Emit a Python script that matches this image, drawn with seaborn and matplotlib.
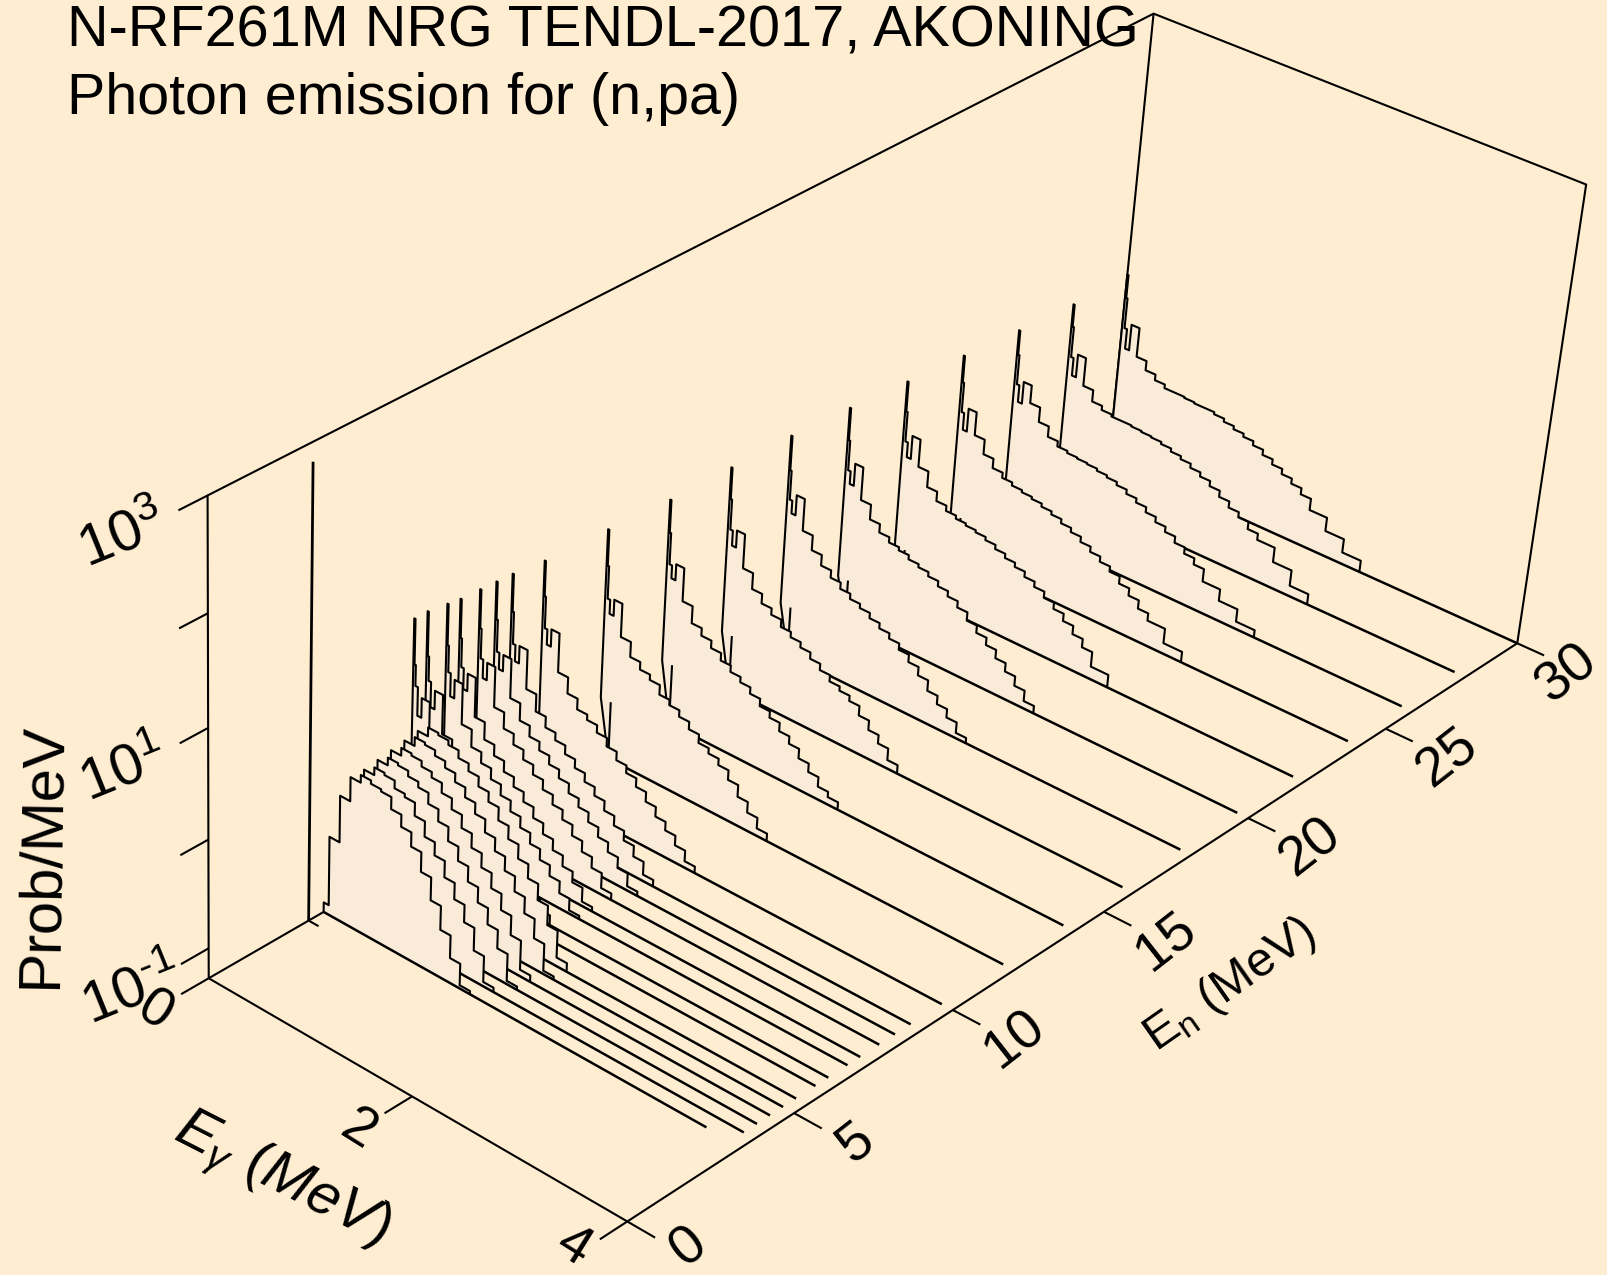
import numpy as np
import matplotlib
matplotlib.use("Agg")
import matplotlib.pyplot as plt
import seaborn as sns

# values, z is log10(Prob/MeV)
z_floor = -1.28
z_top = 3.0
eg_max = 4.0
en_max = 30.0

# low energy spectra, no spike at the start
en_dome = [3.4, 3.8, 4.2, 4.6, 5.0, 5.4]
dome_edges = [0, .05, .15, .25, .35, .45, .55, .65, .75, .85, .95, 1.05, 1.15, 1.25, 1.35, 1.45, 1.55, 1.65, 1.75]
d34 = [-1.19, -.55, -.12, .10, .17, .14, .12, .01, -.10, -.23, -.41, -.62, -.84, -1.05, -1.25]
d38 = [-1.18, -.55, -.12, .10, .17, .15, .08, .05, -.07, -.21, -.33, -.48, -.63, -.79, -1.0, -1.24]
d42 = [-1.15, -.5, -.1, .12, .19, .17, .12, .07, -.03, -.14, -.27, -.40, -.54, -.68, -.83, -1.0, -1.25]
d46 = [-1.15, -.5, -.08, .14, .21, .19, .14, .09, 0, -.10, -.22, -.35, -.48, -.62, -.77, -.95, -1.22]
d50 = [-1.1, -.45, -.05, .16, .24, .22, .17, .11, .03, -.06, -.16, -.28, -.40, -.53, -.67, -.82, -1.0, -1.25]
d54 = [-1.1, -.45, -.03, .18, .26, .24, .2, .13, .06, -.03, -.12, -.24, -.36, -.49, -.62, -.77, -.95, -1.2]
dome_z = [d34, d38, d42, d46, d50, d54]

# higher spectra, spike then falling steps
en_spike = [6, 6.4, 7, 7.4, 8, 8.5, 9, 10, 12, 14, 16, 18, 20, 22, 24, 26, 28, 30]
spike_edges = [0, .012, .025, .05, .09, .17, .27, .37, .47, .57, .67, .77, .87, .97, 1.07, 1.17, 1.27, 1.37,
               1.47, 1.57, 1.67, 1.77, 1.87, 1.97, 2.14, 2.32, 2.5]
s06 = [.98, .57, .38, .12, .30, -.06, -.23, -.34, -.45, -.57, -.68, -.80, -.91, -1.02, -1.12, -1.22]
s064 = [.98, .58, .36, .13, .30, -.06, -.22, -.33, -.44, -.55, -.66, -.77, -.88, -.99, -1.09, -1.19]
s07 = [.95, .58, .34, .13, .30, -.07, -.23, -.33, -.43, -.53, -.63, -.73, -.83, -.93, -1.03, -1.14, -1.25]
s074 = [.93, .58, .32, .13, .29, -.07, -.23, -.33, -.43, -.52, -.61, -.71, -.81, -.91, -1.01, -1.11, -1.24]
s08 = [.92, .57, .30, .13, .29, -.08, -.23, -.33, -.42, -.51, -.60, -.69, -.78, -.88, -.98, -1.08, -1.22]
s085 = [.91, .57, .28, .13, .28, -.08, -.24, -.34, -.42, -.50, -.58, -.67, -.75, -.84, -.93, -1.02, -1.12, -1.24]
s09 = [.90, .56, .27, .12, .28, -.08, -.24, -.34, -.41, -.49, -.57, -.65, -.73, -.82, -.91, -1.00, -1.10, -1.22]
s10 = [.86, .54, .25, .11, .27, -.09, -.24, -.34, -.39, -.46, -.54, -.62, -.69, -.77, -.86, -.95, -1.03, -1.12, -1.22]
s12 = [.83, .50, .20, .07, .22, -.09, -.23, -.30, -.35, -.44, -.49, -.55, -.62, -.70, -.75, -.81, -.90, -1.01, -1.11, -1.21]
s14 = [.79, .49, .20, .08, .23, -.08, -.24, -.31, -.38, -.45, -.51, -.56, -.62, -.69, -.75, -.83, -.90, -.99, -1.07, -1.16, -1.21]
s16 = [.78, .49, .21, .07, .23, -.09, -.24, -.33, -.39, -.46, -.51, -.56, -.62, -.68, -.74, -.78, -.83, -.92, -1.01, -1.09, -1.20]
s18 = [.77, .45, .18, .06, .25, -.05, -.19, -.29, -.36, -.42, -.47, -.51, -.56, -.61, -.66, -.72, -.79, -.87, -.97, -1.05, -1.13, -1.23]
s20 = [.73, .43, .15, .03, .24, -.07, -.21, -.29, -.34, -.37, -.41, -.44, -.48, -.53, -.58, -.64, -.72, -.79, -.86, -.94, -1.02, -1.11, -1.21]
s22 = [.68, .40, .12, -.02, .20, -.06, -.21, -.30, -.35, -.38, -.40, -.42, -.45, -.49, -.53, -.57, -.62, -.67, -.73, -.79, -.86, -.94, -1.02, -1.16]
s24 = [.63, .38, .10, -.06, .16, -.06, -.20, -.29, -.34, -.37, -.39, -.41, -.44, -.47, -.51, -.55, -.60, -.65, -.70, -.75, -.82, -.89, -.97, -1.04, -1.18]
s26 = [.58, .35, .07, -.09, .12, -.05, -.19, -.29, -.34, -.36, -.37, -.38, -.40, -.42, -.45, -.49, -.53, -.58, -.63, -.68, -.74, -.80, -.86, -.98, -1.09, -1.21]
s28 = [.54, .33, .04, -.13, .09, -.18, -.29, -.33, -.35, -.35, -.36, -.37, -.38, -.40, -.43, -.46, -.50, -.54, -.59, -.65, -.71, -.76, -.83, -.89, -1.03, -1.18]
s30 = [.54, .32, .03, -.16, .09, -.19, -.28, -.335, -.37, -.37, -.38, -.39, -.39, -.41, -.44, -.47, -.50, -.54, -.59, -.64, -.69, -.74, -.80, -.91, -1.04, -1.17]
spike_z = [s06, s064, s07, s074, s08, s085, s09, s10, s12, s14, s16, s18, s20, s22, s24, s26, s28, s30]
# value of the little kink at the foot of each spike
spike_kink = [-.70, -.70, -.70, -.70, -.70, -.70, -.70, -.72, -.74, -.72, -.77, -.82, -.88, -.90, -.90, -.90, -.90, -.90]

# the lone spike at the very front
en_first = 2.95
first_z = 2.83

eg_line_end = 3.9
eg_line_end_first = 3.68

en_ticks = [0, 5, 10, 15, 20, 25, 30]
eg_ticks = [0, 2, 4]
z_ticks = [-1, 0, 1, 2, 3]
z_labels = {3: r"$\mathit{10^{3}}$", 1: r"$\mathit{10^{1}}$", -1: r"$\mathit{10}^{\text{-}\mathit{1}}$"}

bg_color = "#FFEDD1"
fill_color = "#FAEBD9"

# camera fit: axis values to the pixel where the frame sits in the picture
frame_xyz = np.array([
    [0, 0, z_floor], [4, 0, z_floor], [4, 30, z_floor], [0, 30, 3], [4, 30, 3], [0, 0, 3],
    [0, 0, -1], [0, 0, 0], [0, 0, 1], [0, 0, 2], [4, 5, z_floor], [4, 10, z_floor],
    [4, 15, z_floor], [4, 20, z_floor], [4, 25, z_floor], [2, 0, z_floor], [0, 30, z_floor]])
frame_px = np.array([
    [209, 979], [626.4, 1221], [1517, 642.7], [1153, 13.3], [1586.5, 184.5], [208, 495.7],
    [208.3, 947.4], [208, 838.6], [208, 728.2], [208, 613.7], [794.5, 1113], [953.8, 1010.7],
    [1104.5, 911.7], [1247.8, 818.3], [1385, 729], [412, 1096.6], [1109.5, 459]])

rows = []
for (a, b, c), (u, v) in zip(frame_xyz, frame_px):
    rows.append([a, b, c, 1, 0, 0, 0, 0, -u * a, -u * b, -u * c, -u])
    rows.append([0, 0, 0, 0, a, b, c, 1, -v * a, -v * b, -v * c, -v])
cam = np.linalg.svd(np.array(rows))[2][-1].reshape(3, 4)


def project(eg, en, z):
    eg, en, z = np.broadcast_arrays(np.atleast_1d(np.asarray(eg, float)),
                                    np.atleast_1d(np.asarray(en, float)),
                                    np.atleast_1d(np.asarray(z, float)))
    pts = cam @ np.vstack([eg, en, z, np.ones_like(eg)])
    return pts[0] / pts[2], pts[1] / pts[2]


def project_one(eg, en, z):
    x, y = project(eg, en, z)
    return x[0], y[0]


sns.set_theme(style="white")
plt.rcParams["font.family"] = ["Liberation Sans", "DejaVu Sans"]
plt.rcParams["text.color"] = "black"
plt.rcParams["mathtext.fontset"] = "custom"
plt.rcParams["mathtext.rm"] = "Liberation Sans"
plt.rcParams["mathtext.it"] = "Liberation Sans:italic"

fig = plt.figure(figsize=(16.07, 12.75), dpi=100, facecolor=bg_color)
ax = fig.add_axes([0, 0, 1, 1])
ax.set_facecolor(bg_color)


def draw_path(eg, en, z, zo, lw=1.5):
    x, y = project(eg, en, z)
    sns.lineplot(x=x, y=y, sort=False, estimator=None, color="black", linewidth=lw,
                 zorder=zo, legend=False, ax=ax, solid_capstyle="butt")


# box
draw_path([0, 0, 0, 4, 4], [0, 0, 30, 30, 30], [z_floor, z_top, z_top, z_top, z_floor], 1)
draw_path([0, 0], [30, 30], [z_top, z_floor], 1)
draw_path([0, 0], [0, 30], [z_floor, z_floor], 1)
draw_path([0, 4, 4], [0, 0, 30], [z_floor, z_floor, z_floor], 1)

# ticks
for v in en_ticks:
    draw_path([4, 4.25], [v, v], [z_floor, z_floor], 1)
    tx, ty = project_one(4, v, z_floor)
    ax.text(tx + (50 if v == 30 else 62), ty + (26 if v == 0 else 30), str(v), fontsize=40, rotation=38,
            ha="center", va="center")
for v in eg_ticks:
    draw_path([v, v], [0, -.8], [z_floor, z_floor], 1)
    tx, ty = project_one(v, 0, z_floor)
    ax.text(tx - 54, ty + (26 if v == 4 else 34), str(v), fontsize=40, rotation=-32, ha="center", va="center")
for v in z_ticks:
    draw_path([0, 0], [0, -.8], [v, v], 1)
    if v in z_labels:
        tx, ty = project_one(0, 0, v)
        shift = 8 if v == -1 else 0
        ax.text(tx - 85 + shift, ty + 42, z_labels[v], fontsize=42, rotation=22, ha="center", va="center")

# spectra, back to front so the front ones hide what is behind
zo = 10
for en, z, kink in reversed(list(zip(en_spike, spike_z, spike_kink))):
    edges = spike_edges[:len(z) + 1]
    eg_top = [.1, .1, 0, 0]
    z_top_line = [kink, z_floor, kink, z[0]]
    for i, val in enumerate(z):
        eg_top += [edges[i], edges[i + 1]]
        z_top_line += [val, val]
    eg_top += [edges[len(z)]]
    z_top_line += [z_floor]
    x, y = project(eg_top[1:], en, z_top_line[1:])
    ax.fill(x, y, color=fill_color, lw=0, zorder=zo)
    draw_path(eg_top, en, z_top_line, zo + 1)
    last = eg_max if en == en_max else eg_line_end
    draw_path([.1, last], en, [z_floor, z_floor], zo + 1, lw=1.8)
    zo += 2

for en, z in reversed(list(zip(en_dome, dome_z))):
    edges = dome_edges[:len(z) + 1]
    eg_top = [0]
    z_top_line = [z_floor]
    for i, val in enumerate(z):
        eg_top += [edges[i], edges[i + 1]]
        z_top_line += [val, val]
    eg_top += [edges[len(z)]]
    z_top_line += [z_floor]
    x, y = project(eg_top, en, z_top_line)
    ax.fill(x, y, color=fill_color, lw=0, zorder=zo)
    draw_path(eg_top, en, z_top_line, zo + 1)
    last = eg_line_end_first if en == en_dome[0] else eg_line_end
    draw_path([0, last], en, [z_floor, z_floor], zo + 1, lw=1.8)
    zo += 2

draw_path([0, 0], en_first, [first_z, z_floor], zo, lw=2.0)
draw_path([0, .1], en_first, [z_floor, z_floor], zo)

ax.text(67, 46, "N-RF261M NRG TENDL-2017, AKONING", fontsize=41.5, ha="left", va="baseline", zorder=100)
ax.text(67, 114, "Photon emission for (n,pa)", fontsize=41.3, ha="left", va="baseline", zorder=100)
ax.text(42, 856, "Prob/MeV", fontsize=43, rotation=89, ha="center", va="center")
ax.text(282, 1180, r"$\mathit{E_{\gamma}\ (MeV)}$", fontsize=42, rotation=-27, ha="center", va="center")
ax.text(1230, 985, r"$\mathregular{E_{n}\ (MeV)}$", fontsize=35, rotation=35, ha="center", va="center")

ax.set_xlim(0, 1607)
ax.set_ylim(1275, 0)
ax.axis("off")
fig.savefig("out.png", dpi=100, facecolor=bg_color)
